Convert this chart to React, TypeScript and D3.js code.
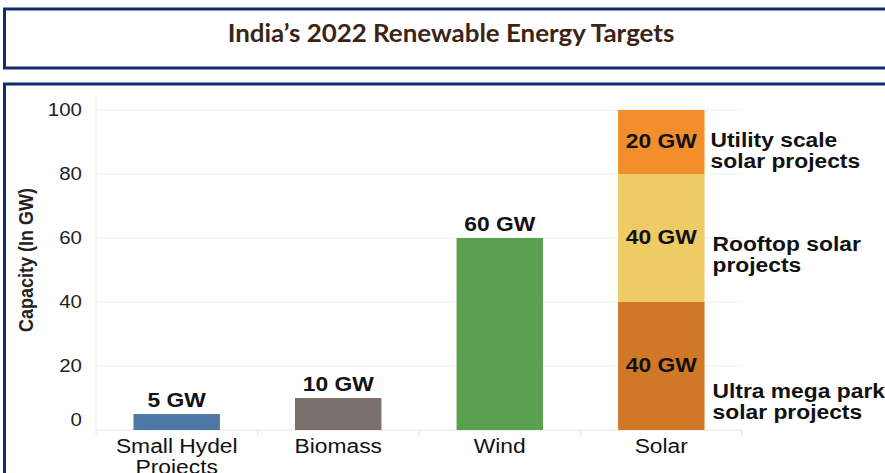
import * as d3 from 'd3';

const categories = ['Small Hydel Projects', 'Biomass', 'Wind', 'Solar'];
const simpleValues = [5, 10, 60];
const simpleColors = ['#4e79a7', '#79706e', '#59a14f'];
const solarSegments = ['Ultra mega park solar projects', 'Rooftop solar projects', 'Utility scale solar projects'];
const solarValues = [40, 40, 20];
const solarColors = ['#d07826', '#efcb66', '#f28e2b'];
const yTicks = [0, 20, 40, 60, 80, 100];

const W = 885;
const H = 473;
const PLOT = { left: 96, right: 742, top: 110, bottom: 430 };
const NAVY = '#112b6b';
const FONT = "Arial, 'Liberation Sans', sans-serif";
const SX = 1.17; // the source image is stretched horizontally

// text stretched horizontally like the reference
function T({ x, y, anchor = 'start', size = 19.5, bold = false, fill = '#111', children }: any) {
  return (
    <g transform={`translate(${x},${y}) scale(${SX},1)`}>
      <text textAnchor={anchor} fontFamily={FONT} fontWeight={bold ? 700 : 400} fontSize={size} fill={fill}>{children}</text>
    </g>
  );
}

export default function App() {
  const x = d3.scaleBand().domain(categories).range([PLOT.left, PLOT.right]).paddingInner(0.465).paddingOuter(0.232);
  const band = d3.scaleBand().domain(categories).range([PLOT.left, PLOT.right]);
  const y = d3.scaleLinear().domain([0, 100]).range([PLOT.bottom, PLOT.top]);

  const stack = d3.stack<any>().keys(['0', '1', '2'])([solarValues]);
  const solarX = x('Solar')!;

  const labelLines: Record<string, string[]> = {
    'Small Hydel Projects': ['Small Hydel', 'Projects'],
  };
  const segLines = [
    ['Ultra mega park', 'solar projects'],
    ['Rooftop solar', 'projects'],
    ['Utility scale', 'solar projects'],
  ];
  // side notes: baseline offset from segment centre, and x nudge
  const segOffset = [32, 13, 5];
  const segNudge = [8, 8, 6];

  return (
    <div style={{ position: 'fixed', left: 0, top: 0, width: W, height: H, overflow: 'hidden', background: '#fff' }}>
      <svg width={W} height={H} style={{ display: 'block' }}>
        {/* title box */}
        <rect x={4.5} y={9} width={W + 10} height={59} fill="#fff" stroke={NAVY} strokeWidth={3} />
        <g transform={`translate(451,42) scale(1.08,1)`}>
          <text textAnchor="middle" fontFamily="Lato, 'Open Sans', sans-serif" fontWeight={700}
            fontSize={24} fill="#3b2416">India’s 2022 Renewable Energy Targets</text>
        </g>

        {/* chart box */}
        <rect x={4.5} y={84} width={W + 10} height={H} fill="#fff" stroke={NAVY} strokeWidth={3} />

        {/* grid */}
        {yTicks.map(t => (
          <line key={t} x1={PLOT.left} x2={PLOT.right} y1={y(t)} y2={y(t)} stroke={t === 0 ? '#e4e4e4' : '#f0f0f0'} strokeWidth={1} />
        ))}
        <line x1={PLOT.left} x2={PLOT.left} y1={PLOT.top - 14} y2={PLOT.bottom + 6} stroke="#ececec" />
        {categories.slice(1).map(c => (
          <line key={c} x1={band(c)!} x2={band(c)!} y1={PLOT.bottom} y2={PLOT.bottom + 6} stroke="#e4e4e4" />
        ))}
        <line x1={PLOT.right} x2={PLOT.right} y1={PLOT.bottom} y2={PLOT.bottom + 6} stroke="#e4e4e4" />

        {/* y axis */}
        {yTicks.map(t => (
          <T key={t} x={82} y={y(t) + 6 - (t === 0 ? 10 : 0)} anchor="end" size={17.5} fill="#222">{t}</T>
        ))}
        <g transform={`translate(33,260) rotate(-90) scale(1,${SX})`}>
          <text textAnchor="middle" fontFamily={FONT} fontWeight={700} fontSize={18} fill="#222">Capacity (In GW)</text>
        </g>

        {/* simple bars */}
        {simpleValues.map((v, i) => {
          const c = categories[i];
          return (
            <g key={c}>
              <rect x={x(c)!} y={y(v)} width={x.bandwidth()} height={y(0) - y(v)} fill={simpleColors[i]} />
              <T x={x(c)! + x.bandwidth() / 2} y={y(v) - 7} anchor="middle" bold>{v} GW</T>
            </g>
          );
        })}

        {/* solar stacked */}
        {stack.map((s, i) => {
          const [y0, y1] = s[0];
          const mid = (y(y0) + y(y1)) / 2;
          return (
            <g key={solarSegments[i]}>
              <rect x={solarX} y={y(y1)} width={x.bandwidth()} height={y(y0) - y(y1)} fill={solarColors[i]} />
              <T x={solarX + x.bandwidth() / 2} y={mid + 6} anchor="middle" bold>{solarValues[i]} GW</T>
              {segLines[i].map((ln, j) => (
                <T key={j} x={solarX + x.bandwidth() + segNudge[i]} y={mid + segOffset[i] + j * 20.5} bold>{ln}</T>
              ))}
            </g>
          );
        })}

        {/* x labels */}
        {categories.map(c => (labelLines[c] || [c]).map((ln, j) => (
          <T key={c + j} x={band(c)! + band.bandwidth() / 2} y={PLOT.bottom + 23 + j * 21} anchor="middle">{ln}</T>
        )))}
      </svg>
    </div>
  );
}
